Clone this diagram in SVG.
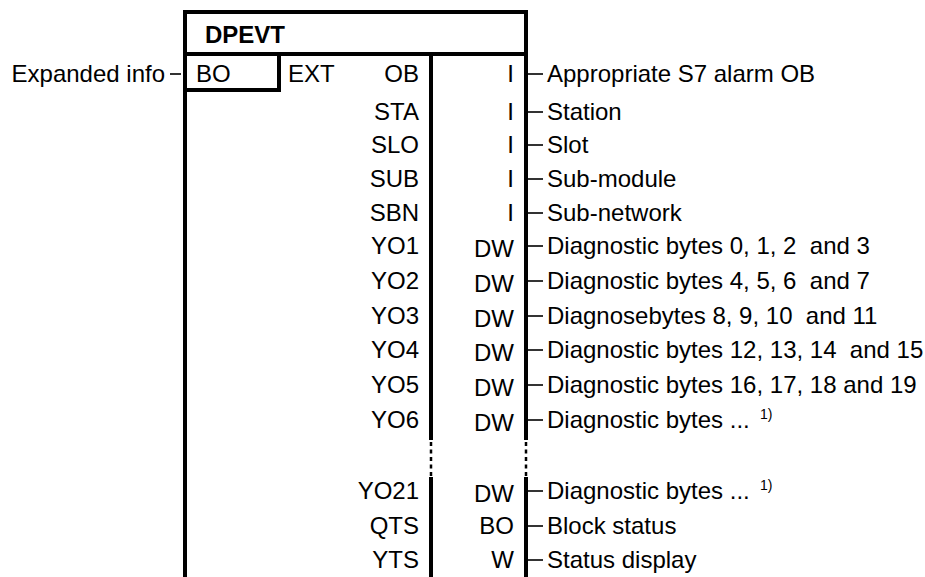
<svg xmlns="http://www.w3.org/2000/svg" width="925" height="577" viewBox="0 0 925 577">
<defs>
<style>
text{font-family:"Liberation Sans",Arial,sans-serif;font-size:24px;fill:#000;white-space:pre}
.b{font-weight:bold}
.e{text-anchor:end}
.sup{font-size:14px}
.frame{stroke:#000;stroke-width:4;fill:none}
.dash{stroke:#000;stroke-width:2.5;stroke-dasharray:4 3.5;fill:none}
.pin{stroke:#000;stroke-width:1.6}
</style>
</defs>
<g id="block">
<line class="frame" x1="183" y1="12" x2="528" y2="12"/>
<line class="frame" x1="185" y1="10" x2="185" y2="577"/>
<line class="frame" x1="526" y1="10" x2="526" y2="440"/>
<line class="dash" x1="526" y1="442" x2="526" y2="477"/>
<line class="frame" x1="526" y1="477" x2="526" y2="577"/>
<line class="frame" x1="185" y1="54" x2="526" y2="54"/>
<line class="frame" x1="279" y1="54" x2="279" y2="92"/>
<line class="frame" x1="183" y1="90" x2="281" y2="90"/>
<line class="frame" x1="431" y1="54" x2="431" y2="440"/>
<line class="dash" x1="431" y1="442" x2="431" y2="477"/>
<line class="frame" x1="431" y1="477" x2="431" y2="577"/>
<text class="b" x="205" y="43">DPEVT</text>
<text x="196" y="82">BO</text>
<text x="288" y="82">EXT</text>
</g>
<g id="inputs">
<text class="e" x="165" y="82">Expanded info</text>
</g>
<g id="pins-left">
<text class="e" x="419" y="82">OB</text>
<text class="e" x="419" y="120">STA</text>
<text class="e" x="419" y="153">SLO</text>
<text class="e" x="419" y="187">SUB</text>
<text class="e" x="419" y="221">SBN</text>
<text class="e" x="419" y="254">YO1</text>
<text class="e" x="419" y="289">YO2</text>
<text class="e" x="419" y="324">YO3</text>
<text class="e" x="419" y="358">YO4</text>
<text class="e" x="419" y="393">YO5</text>
<text class="e" x="419" y="428">YO6</text>
<text class="e" x="419" y="499">YO21</text>
<text class="e" x="419" y="534">QTS</text>
<text class="e" x="419" y="568">YTS</text>
</g>
<g id="types">
<text class="e" x="514" y="82">I</text>
<text class="e" x="514" y="120">I</text>
<text class="e" x="514" y="153">I</text>
<text class="e" x="514" y="187">I</text>
<text class="e" x="514" y="221">I</text>
<text class="e" x="514" y="257">DW</text>
<text class="e" x="514" y="292">DW</text>
<text class="e" x="514" y="327">DW</text>
<text class="e" x="514" y="361">DW</text>
<text class="e" x="514" y="396">DW</text>
<text class="e" x="514" y="431">DW</text>
<text class="e" x="514" y="502">DW</text>
<text class="e" x="514" y="534">BO</text>
<text class="e" x="514" y="568">W</text>
</g>
<g id="connectors">
<line class="pin" x1="170" y1="74" x2="181" y2="74"/>
<line class="pin" x1="528" y1="74" x2="543" y2="74"/>
<line class="pin" x1="528" y1="112" x2="543" y2="112"/>
<line class="pin" x1="528" y1="145" x2="543" y2="145"/>
<line class="pin" x1="528" y1="179" x2="543" y2="179"/>
<line class="pin" x1="528" y1="213" x2="543" y2="213"/>
<line class="pin" x1="528" y1="246" x2="543" y2="246"/>
<line class="pin" x1="528" y1="281" x2="543" y2="281"/>
<line class="pin" x1="528" y1="316" x2="543" y2="316"/>
<line class="pin" x1="528" y1="350" x2="543" y2="350"/>
<line class="pin" x1="528" y1="385" x2="543" y2="385"/>
<line class="pin" x1="528" y1="420" x2="543" y2="420"/>
<line class="pin" x1="528" y1="491" x2="543" y2="491"/>
<line class="pin" x1="528" y1="526" x2="543" y2="526"/>
<line class="pin" x1="528" y1="560" x2="543" y2="560"/>
</g>
<g id="outputs">
<text x="547" y="82">Appropriate S7 alarm OB</text>
<text x="547" y="120">Station</text>
<text x="547" y="153">Slot</text>
<text x="547" y="187">Sub-module</text>
<text x="547" y="221">Sub-network</text>
<text x="547" y="254">Diagnostic bytes 0, 1, 2  and 3</text>
<text x="547" y="289">Diagnostic bytes 4, 5, 6  and 7</text>
<text x="547" y="324">Diagnosebytes 8, 9, 10  and 11</text>
<text x="547" y="358">Diagnostic bytes 12, 13, 14  and 15</text>
<text x="547" y="393">Diagnostic bytes 16, 17, 18 and 19</text>
<text x="547" y="428">Diagnostic bytes ...</text>
<text class="sup" x="760" y="419">1)</text>
<text x="547" y="499">Diagnostic bytes ...</text>
<text class="sup" x="760" y="490">1)</text>
<text x="547" y="534">Block status</text>
<text x="547" y="568">Status display</text>
</g>
</svg>
